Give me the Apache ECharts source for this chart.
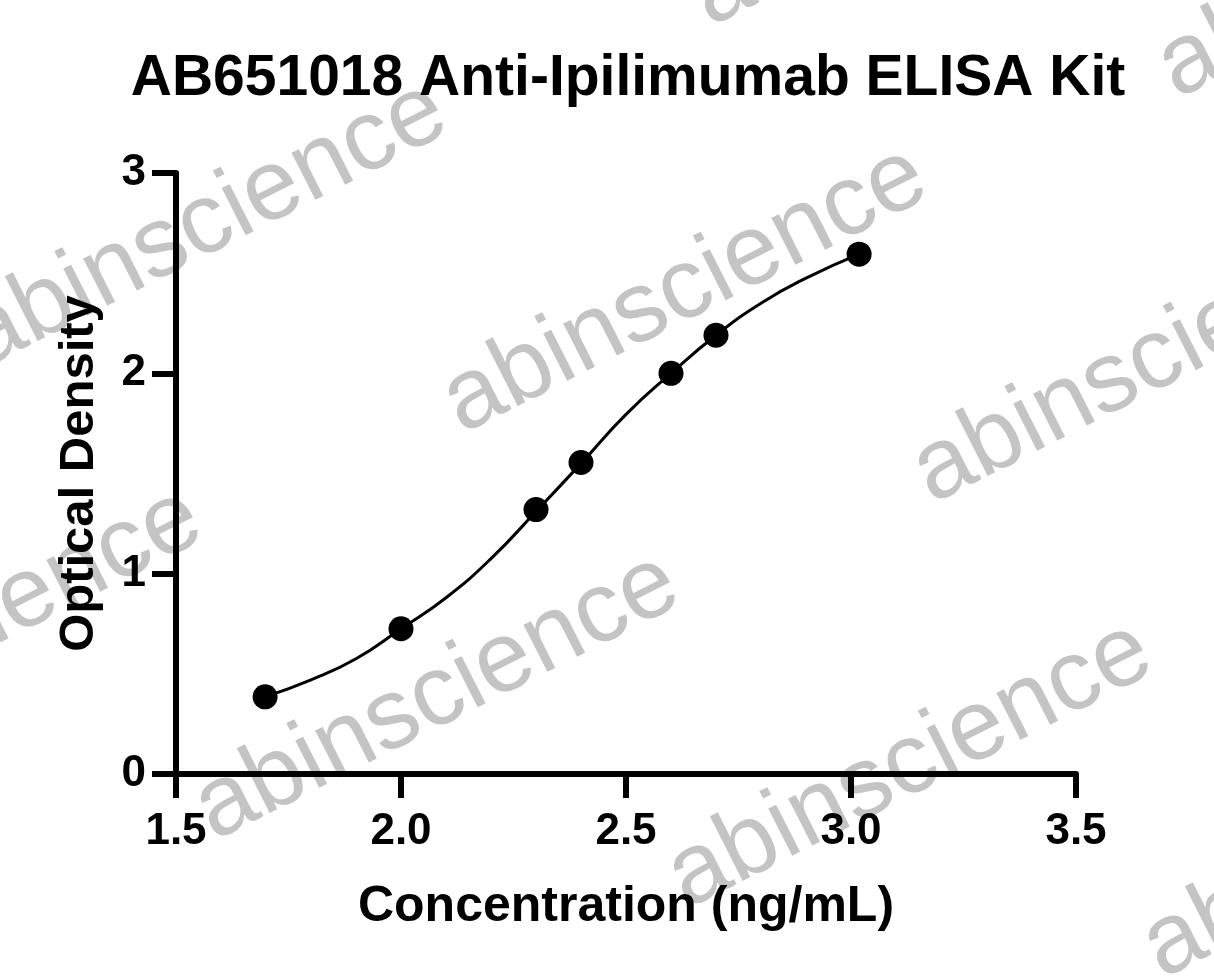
<!DOCTYPE html>
<html lang="en">
  <head>
    <meta charset="UTF-8" />
    <title>AB651018 Anti-Ipilimumab ELISA Kit</title>
    <script src="https://cdn.jsdelivr.net/npm/echarts@6.0.0/dist/echarts.min.js"></script>
    <style>
      body {
        margin: 0;
        background-color: #ffffff;
      }
      #main {
        width: 1214px;
        height: 978px;
      }
    </style>
  </head>
  <body>
    <div id="main"></div>
    <script>
      // measured standards: log10 concentration vs OD
      const logConc = [1.698, 2.0, 2.3, 2.4, 2.6, 2.7, 3.018];
      const od = [0.385, 0.725, 1.32, 1.555, 2.0, 2.19, 2.595];

      // fitted curve
      const curveX = [1.698, 1.8, 1.9, 2.0, 2.1, 2.2, 2.3, 2.4, 2.5, 2.6, 2.7, 2.8, 2.9, 3.018];
      const curveY = [0.385, 0.47, 0.575, 0.725, 0.88, 1.075, 1.31, 1.55, 1.795, 2.0, 2.19, 2.35, 2.475, 2.595];

      const xTicks = [1.5, 2.0, 2.5, 3.0, 3.5];
      const yTicks = [0, 1, 2, 3];

      // watermark centres (decoration)
      const marks = [
        [205, 225], [685, 290], [1155, 360], [-40, 632],
        [437, 697], [910, 765], [1385, 835], [1400, -45], [933, -117]
      ];

      const font = "'Liberation Sans', Arial, sans-serif";

      const chart = echarts.init(document.getElementById("main"));

      const option = {
        backgroundColor: "#ffffff",
        animation: false,
        title: {
          text: "AB651018 Anti-Ipilimumab ELISA Kit",
          left: 623,
          top: 46,
          textAlign: "center",
          textStyle: {
            fontFamily: font,
            fontWeight: "bold",
            fontSize: 57,
            color: "#000",
          },
        },
        graphic: marks.map(([x, y]) => ({
          type: "text",
          x: x,
          y: y,
          rotation: 0.47,
          z: -10,
          silent: true,
          style: {
            text: "abinscience",
            fontFamily: font,
            fontSize: 100,
            fill: "#c4c4c4",
            align: "center",
            verticalAlign: "middle",
          },
        })),
        grid: {
          left: 176,
          right: 138,
          top: 173,
          bottom: 204,
        },
        xAxis: {
          type: "value",
          min: xTicks[0],
          max: xTicks[xTicks.length - 1],
          interval: 0.5,
          name: "Concentration (ng/mL)",
          nameLocation: "middle",
          nameGap: 108,
          nameTextStyle: {
            fontFamily: font,
            fontWeight: "bold",
            fontSize: 50,
            color: "#000",
          },
          axisLine: { lineStyle: { color: "#000", width: 6 } },
          axisTick: { length: 24, lineStyle: { color: "#000", width: 6 } },
          axisLabel: {
            margin: 36,
            fontFamily: font,
            fontWeight: "bold",
            fontSize: 44,
            color: "#000",
            formatter: (v) => v.toFixed(1),
          },
          splitLine: { show: false },
        },
        yAxis: {
          type: "value",
          min: yTicks[0],
          max: yTicks[yTicks.length - 1],
          interval: 1,
          name: "Optical Density",
          nameLocation: "middle",
          nameGap: 72,
          nameTextStyle: {
            fontFamily: font,
            fontWeight: "bold",
            fontSize: 49,
            color: "#000",
          },
          axisLine: { show: true, lineStyle: { color: "#000", width: 6 } },
          axisTick: { show: true, length: 24, lineStyle: { color: "#000", width: 6 } },
          axisLabel: {
            margin: 30,
            fontFamily: font,
            fontWeight: "bold",
            fontSize: 44,
            color: "#000",
          },
          splitLine: { show: false },
        },
        series: [
          {
            name: "Fit",
            type: "line",
            data: curveX.map((x, i) => [x, curveY[i]]),
            smooth: true,
            showSymbol: false,
            lineStyle: { color: "#000", width: 3 },
            z: 2,
          },
          {
            name: "Standards",
            type: "scatter",
            data: logConc.map((x, i) => [x, od[i]]),
            symbolSize: 25,
            itemStyle: { color: "#000", opacity: 1 },
            z: 3,
          },
        ],
      };

      chart.setOption(option);
    </script>
  </body>
</html>
